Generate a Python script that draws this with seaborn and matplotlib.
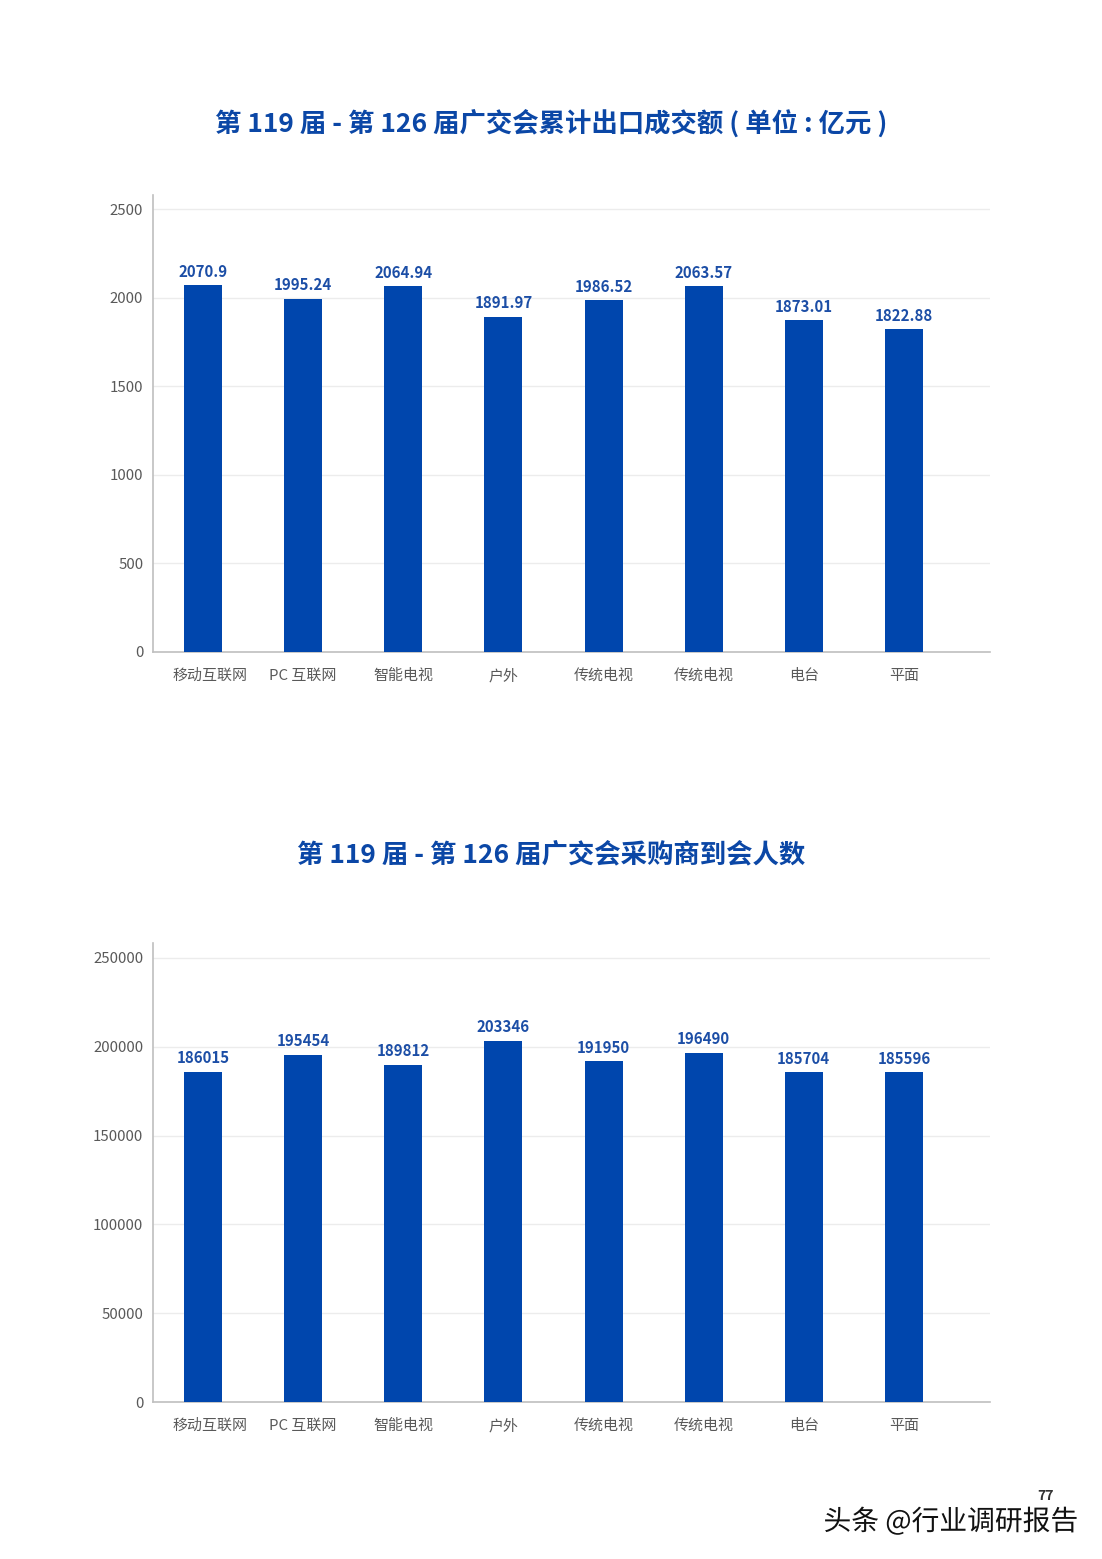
import matplotlib
matplotlib.use("Agg")
import matplotlib.pyplot as plt
import matplotlib.patheffects as pe
import matplotlib.transforms as mtransforms
import seaborn as sns
import pandas as pd
import numpy as np

categories = ["移动互联网", "PC 互联网", "智能电视", "户外", "传统电视", "传统电视", "电台", "平面"]
export_values = [2070.9, 1995.24, 2064.94, 1891.97, 1986.52, 2063.57, 1873.01, 1822.88]
export_labels = ["2070.9", "1995.24", "2064.94", "1891.97", "1986.52", "2063.57", "1873.01", "1822.88"]
buyer_values = [186015, 195454, 189812, 203346, 191950, 196490, 185704, 185596]
buyer_labels = ["186015", "195454", "189812", "203346", "191950", "196490", "185704", "185596"]
export_ticks = [0, 500, 1000, 1500, 2000, 2500]
buyer_ticks = [0, 50000, 100000, 150000, 200000, 250000]
title1 = "第 119 届 - 第 126 届广交会累计出口成交额 ( 单位 : 亿元 )"
title2 = "第 119 届 - 第 126 届广交会采购商到会人数"

sns.set_theme(style="white")
plt.rcParams['font.family'] = ['Noto Sans CJK SC', 'DejaVu Sans']

BAR = "#0046ad"
LBL = "#1c4ea6"
TITLE = "#0b47a6"
TICK = "#595959"
SPINE = "#bfbfbf"
GRID = "#ececec"

fig = plt.figure(figsize=(11.02, 15.59), dpi=100)
ax1 = fig.add_axes([0.1388, 0.5818, 0.7596, 0.2931])
ax2 = fig.add_axes([0.1388, 0.1007, 0.7596, 0.2944])


def draw(ax, values, labels, ticks, ytop):
    df = pd.DataFrame({"cat": range(len(categories)), "val": values})
    sns.barplot(data=df, x="cat", y="val", ax=ax, color=BAR, width=0.38,
                saturation=1, native_scale=True, zorder=3, linewidth=0)
    ax.set_xlim(-0.5, len(categories) - 0.5 + 0.36)
    ax.set_ylim(0, ytop)
    ax.set_yticks(ticks)
    ax.set_yticklabels([str(t) for t in ticks], color=TICK, fontsize=10.8)
    ax.set_xticks(range(len(categories)))
    ax.set_xticklabels(categories, color=TICK, fontsize=10.8)
    ax.tick_params(axis="x", length=0, pad=12)
    ax.tick_params(axis="y", length=0, pad=7)
    ax.set_xticks(np.arange(0.5, len(categories) - 1, 1.0), minor=True)
    ax.tick_params(axis="x", which="minor", length=3, direction="in", color=SPINE, width=1)
    first = ax.get_xticklabels()[0]
    first.set_transform(first.get_transform() +
                        mtransforms.ScaledTranslation(7 / 100, 0, fig.dpi_scale_trans))
    ax.set_xlabel("")
    ax.set_ylabel("")
    for t in ticks[1:]:
        ax.axhline(t, color=GRID, lw=1, zorder=1)
    for s in ["top", "right"]:
        ax.spines[s].set_visible(False)
    for s in ["left", "bottom"]:
        ax.spines[s].set_color(SPINE)
        ax.spines[s].set_linewidth(1.2)
    for i, (v, l) in enumerate(zip(values, labels)):
        ax.annotate(l, (i, v), xytext=(0, 4), textcoords="offset points",
                    ha="center", va="bottom", color=LBL, fontsize=10.8,
                    fontweight="bold")


draw(ax1, export_values, export_labels, export_ticks, 2580)
draw(ax2, buyer_values, buyer_labels, buyer_ticks, 258400)

fig.text(0.5, 1 - 124 / 1559, title1, ha="center", va="center", color=TITLE,
         fontsize=19, fontweight="bold")
fig.text(0.5, 1 - 855 / 1559, title2, ha="center", va="center", color=TITLE,
         fontsize=19, fontweight="bold")

fig.text(1046 / 1102, 1 - 1496 / 1559, "77", ha="center", va="center",
         color="#333333", fontsize=10, fontweight="bold")
fig.text(1078 / 1102, 1 - 1522 / 1559, "头条 @行业调研报告", ha="right", va="center",
         color="#111111", fontsize=20,
         path_effects=[pe.withStroke(linewidth=2.5, foreground="white")])

fig.savefig("out.png", dpi=100, facecolor="white")
